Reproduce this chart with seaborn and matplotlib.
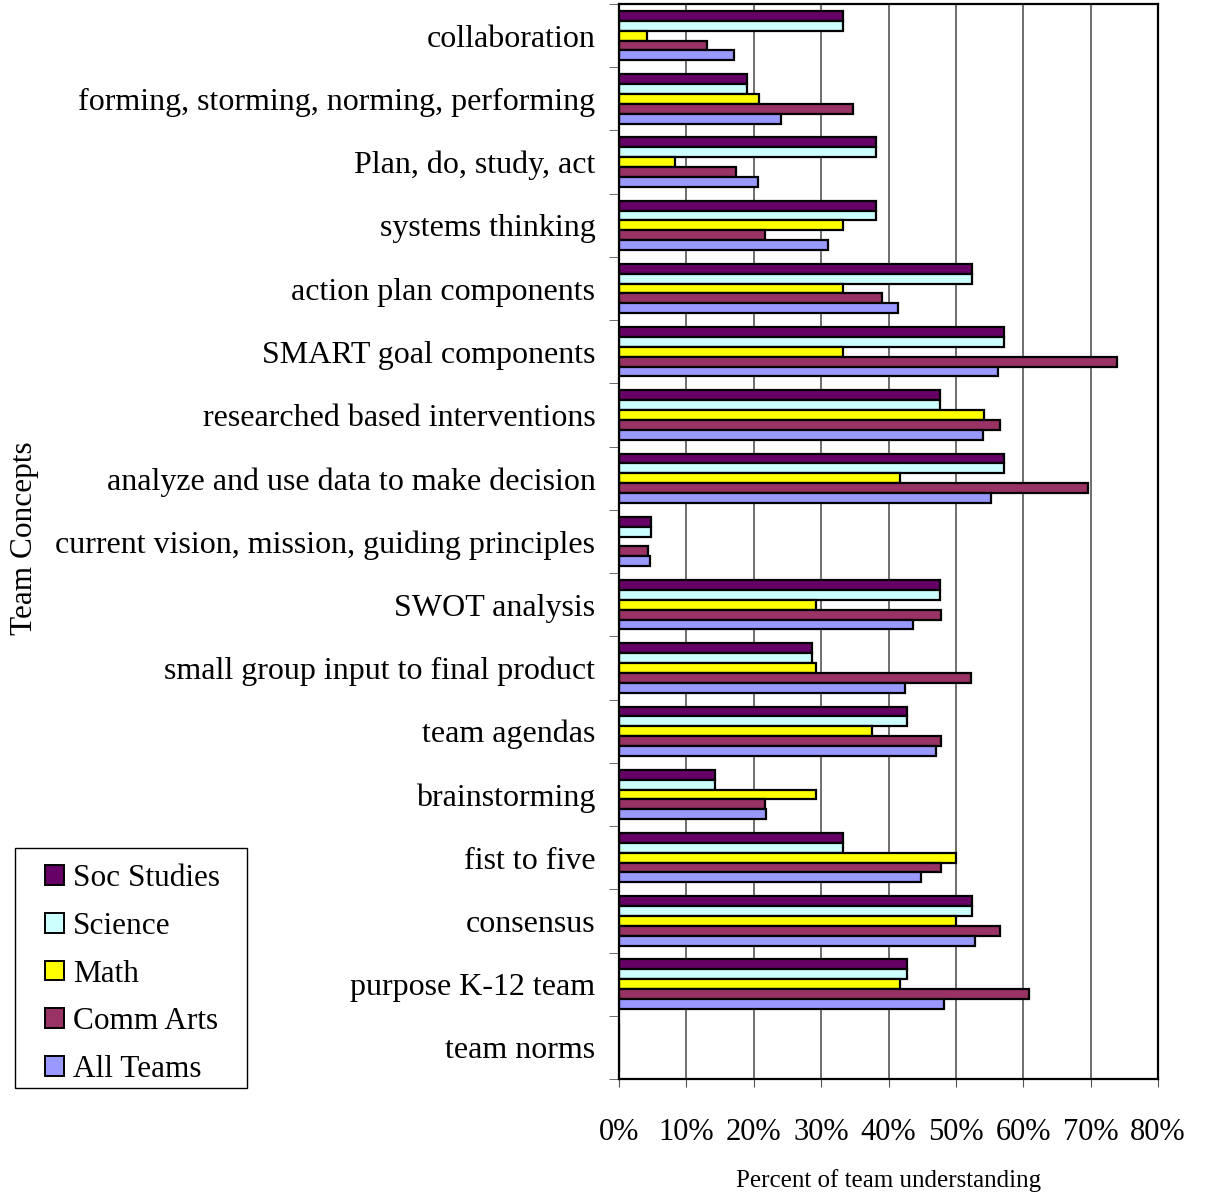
import seaborn as sns
import matplotlib.pyplot as plt
import numpy as np
import pandas as pd
from matplotlib.ticker import FixedLocator, PercentFormatter

concepts = [
    "collaboration",
    "forming, storming, norming, performing",
    "Plan, do, study, act",
    "systems thinking",
    "action plan components",
    "SMART goal components",
    "researched based interventions",
    "analyze and use data to make decision",
    "current vision, mission, guiding principles",
    "SWOT analysis",
    "small group input to final product",
    "team agendas",
    "brainstorming",
    "fist to five",
    "consensus",
    "purpose K-12 team",
    "team norms",
]

soc_studies = [33.3, 19.0, 38.1, 38.1, 52.4, 57.1, 47.6, 57.1, 4.8, 47.6, 28.6, 42.8, 14.3, 33.3, 52.4, 42.8, 0]
science = [33.3, 19.0, 38.1, 38.1, 52.4, 57.1, 47.6, 57.1, 4.8, 47.6, 28.6, 42.8, 14.3, 33.3, 52.4, 42.8, 0]
math = [4.2, 20.8, 8.3, 33.3, 33.3, 33.3, 54.2, 41.7, 0, 29.2, 29.2, 37.5, 29.2, 50.0, 50.0, 41.7, 0]
comm_arts = [13.0, 34.8, 17.4, 21.7, 39.1, 73.9, 56.5, 69.6, 4.3, 47.8, 52.2, 47.8, 21.7, 47.8, 56.5, 60.9, 0]
all_teams = [17.1, 24.1, 20.7, 31.0, 41.4, 56.3, 54.0, 55.2, 4.6, 43.7, 42.5, 47.1, 21.8, 44.8, 52.9, 48.3, 0]

series = ["Soc Studies", "Science", "Math", "Comm Arts", "All Teams"]
colors = ["#660066", "#CCFFFF", "#FFFF00", "#993366", "#9999FF"]

# long format for seaborn
df = pd.DataFrame({
    "concept": concepts * 5,
    "team": np.repeat(series, len(concepts)),
    "value": soc_studies + science + math + comm_arts + all_teams,
})

sns.set_style("white")
plt.rcParams["font.family"] = ["Liberation Serif", "DejaVu Serif"]
plt.rcParams["text.color"] = "black"
plt.rcParams["xtick.color"] = "black"
plt.rcParams["ytick.color"] = "black"

fig = plt.figure(figsize=(12.07, 11.93), dpi=100)
ax = fig.add_axes([619 / 1207, 1 - 1079 / 1193, (1158 - 619) / 1207, (1079 - 4) / 1193])

sns.barplot(data=df, x="value", y="concept", hue="team", hue_order=series,
            order=concepts, palette=colors, saturation=1, orient="h", width=0.78,
            edgecolor="black", linewidth=1.6, ax=ax, legend=False)

ax.set_xlim(0, 80)
ax.set_ylim(len(concepts) - 0.5, -0.5)
ax.set_xticks(np.arange(0, 81, 10))
ax.xaxis.set_major_formatter(PercentFormatter(decimals=0))
ax.grid(axis="x", color="#555555", linewidth=1.2)
ax.set_axisbelow(True)
for s in ax.spines.values():
    s.set_color("black")
    s.set_linewidth(1.6)

ax.tick_params(axis="x", labelsize=22, pad=22, length=6, direction="out",
               color="#555555", labelcolor="black", bottom=True)
ax.tick_params(axis="y", which="major", labelsize=23, length=0, pad=17, labelcolor="black")
ax.yaxis.set_minor_locator(FixedLocator(np.arange(-0.5, len(concepts), 1)))
ax.tick_params(axis="y", which="minor", length=7, direction="out", color="#555555", left=True)

ax.set_xlabel("Percent of team understanding", fontsize=18, labelpad=16, color="black")
ax.set_ylabel("")
fig.text(25 / 1207, 1 - 538 / 1193, "Team Concepts", rotation=90, fontsize=22.5,
         ha="center", va="center", color="black")

# legend without frame, box drawn separately
handles = [plt.Rectangle((0, 0), 1, 1, facecolor=c, edgecolor="black", linewidth=1.4)
           for c in colors]
leg = fig.legend(handles, series, loc="upper left",
                 bbox_to_anchor=(45 / 1207, 1 - 864 / 1193), fontsize=22.5,
                 handlelength=0.6, handleheight=0.6, handletextpad=0.3,
                 labelspacing=0.6, borderpad=0, frameon=False, borderaxespad=0)
for t in leg.get_texts():
    t.set_color("black")
box = plt.Rectangle((15 / 1207, 1 - 1088 / 1193), (247 - 15) / 1207, (1088 - 848) / 1193,
                    transform=fig.transFigure, facecolor="none", edgecolor="black",
                    linewidth=1.0)
fig.patches.append(box)

fig.savefig("out.png", dpi=100)
